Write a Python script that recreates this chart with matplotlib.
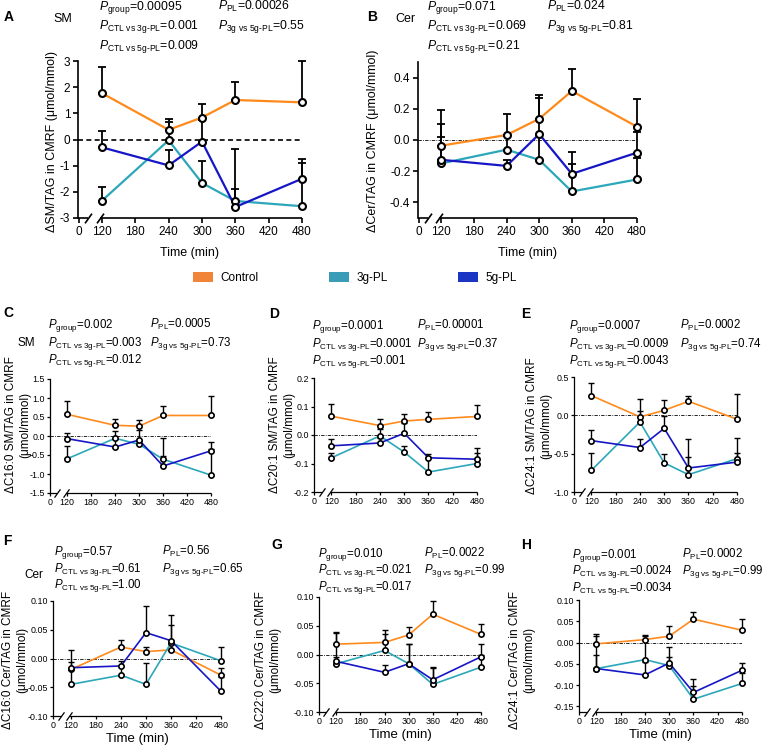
import numpy as np
import matplotlib
matplotlib.use('Agg')
import matplotlib.pyplot as plt
from matplotlib.patches import Patch

plt.rcParams['font.family'] = ['Liberation Sans', 'DejaVu Sans']
plt.rcParams['mathtext.fontset'] = 'custom'
plt.rcParams['mathtext.rm'] = 'Liberation Sans'
plt.rcParams['mathtext.it'] = 'Liberation Sans:italic'
plt.rcParams['mathtext.bf'] = 'Liberation Sans:bold'
plt.rcParams['axes.unicode_minus'] = False

# ---- data -------------------------------------------------------------
times = [120, 240, 300, 360, 480]
xticks = [0, 120, 180, 240, 300, 360, 420, 480]
groups = ['Control', '3g-PL', '5g-PL']

# A  SM
a_ctl = [1.77, 0.37, 0.84, 1.51, 1.42]
a_ctl_sem = [0.99, 0.43, 0.51, 0.69, 1.58]
a_3g = [-2.34, -0.03, -1.66, -2.35, -2.55]
a_3g_sem = [0.52, 0.69, 0.83, 0.47, 1.67]
a_5g = [-0.30, -0.99, -0.08, -2.58, -1.50]
a_5g_sem = [0.63, 0.60, 0.83, 2.23, 0.75]

# B  Cer
b_ctl = [-0.036, 0.032, 0.136, 0.314, 0.085]
b_ctl_sem = [0.226, 0.134, 0.154, 0.138, 0.178]
b_3g = [-0.150, -0.062, -0.127, -0.330, -0.253]
b_3g_sem = [0.170, 0.09, 0.16, 0.173, 0.136]
b_5g = [-0.127, -0.166, 0.038, -0.217, -0.081]
b_5g_sem = [0.227, 0.039, 0.232, 0.143, 0.131]

# C  C16:0 SM
c_ctl = [0.57, 0.28, 0.26, 0.54, 0.54]
c_ctl_sem = [0.36, 0.17, 0.16, 0.24, 0.50]
c_3g = [-0.60, -0.06, -0.22, -0.61, -1.03]
c_3g_sem = [0.34, 0.19, 0.10, 0.08, 0.70]
c_5g = [-0.07, -0.29, -0.105, -0.79, -0.39]
c_5g_sem = [0.16, 0.22, 0.25, 0.75, 0.23]

# D  C20:1 SM
d_ctl = [0.066, 0.033, 0.049, 0.055, 0.065]
d_ctl_sem = [0.043, 0.022, 0.025, 0.025, 0.042]
d_3g = [-0.080, -0.003, -0.060, -0.130, -0.100]
d_3g_sem = [0.016, 0.024, 0.020, 0.052, 0.038]
d_5g = [-0.038, -0.028, 0.006, -0.080, -0.085]
d_5g_sem = [0.023, 0.018, 0.037, 0.014, 0.041]

# E  C24:1 SM
e_ctl = [0.257, -0.02, 0.065, 0.183, -0.05]
e_ctl_sem = [0.169, 0.23, 0.135, 0.067, 0.33]
e_3g = [-0.717, -0.087, -0.62, -0.774, -0.565]
e_3g_sem = [0.221, 0.144, 0.12, 0.23, 0.075]
e_5g = [-0.33, -0.42, -0.17, -0.687, -0.61]
e_5g_sem = [0.134, 0.107, 0.166, 0.377, 0.31]

# F  C16:0 Cer
f_ctl = [-0.019, 0.020, 0.012, 0.015, -0.029]
f_ctl_sem = [0.034, 0.013, 0.008, 0.010, 0.013]
f_3g = [-0.045, -0.029, -0.045, 0.027, -0.004]
f_3g_sem = [0.025, 0.016, 0.038, 0.032, 0.024]
f_5g = [-0.016, -0.013, 0.045, 0.031, -0.057]
f_5g_sem = [0.010, 0.008, 0.046, 0.044, 0.025]

# G  C22:0 Cer
g_ctl = [0.018, 0.021, 0.034, 0.070, 0.035]
g_ctl_sem = [0.022, 0.022, 0.013, 0.023, 0.018]
g_3g = [-0.016, 0.007, -0.016, -0.052, -0.022]
g_3g_sem = [0.011, 0.029, 0.035, 0.031, 0.022]
g_5g = [-0.012, -0.031, -0.016, -0.044, -0.004]
g_5g_sem = [0.050, 0.013, 0.034, 0.020, 0.022]

# H  C24:1 Cer
h_ctl = [-0.003, 0.007, 0.015, 0.055, 0.029]
h_ctl_sem = [0.0225, 0.011, 0.024, 0.016, 0.026]
h_3g = [-0.061, -0.040, -0.054, -0.133, -0.096]
h_3g_sem = [0.033, 0.055, 0.021, 0.031, 0.024]
h_5g = [-0.061, -0.076, -0.048, -0.117, -0.065]
h_5g_sem = [0.076, 0.030, 0.038, 0.031, 0.017]

# p values: group, PL, CTL vs 3g, 3g vs 5g, CTL vs 5g
p_a = ['0.00095', '0.00026', '0.001', '0.55', '0.009']
p_b = ['0.071', '0.024', '0.069', '0.81', '0.21']
p_c = ['0.002', '0.0005', '0.003', '0.73', '0.012']
p_d = ['0.0001', '0.00001', '0.0001', '0.37', '0.001']
p_e = ['0.0007', '0.0002', '0.0009', '0.74', '0.0043']
p_f = ['0.57', '0.56', '0.61', '0.65', '1.00']
p_g = ['0.010', '0.0022', '0.021', '0.99', '0.017']
p_h = ['0.001', '0.0002', '0.0024', '0.99', '0.0034']

line_colors = ['#FF8A1C', '#2CA7BA', '#1616C6']
legend_colors = ['#F0853A', '#3A9DB8', '#1C36C4']

# ---- figure -----------------------------------------------------------
W, H = 762, 749
fig = plt.figure(figsize=(W / 100, H / 100), dpi=100)


def box(l, r, t, b):
    return [l / W, 1 - b / H, (r - l) / W, (b - t) / H]


K = 0.35  # compression of the 0-120 stretch (axis break)


def fwd(x):
    x = np.asarray(x, float)
    return np.where(x < 120, x * K, x - 120 + 120 * K)


def inv(y):
    y = np.asarray(y, float)
    return np.where(y < 120 * K, y / K, y + 120 - 120 * K)


def panel(rect, series, ylim, yticks, fmt, big=False, xlabel=False, dash=False):
    ax = fig.add_axes(box(*rect))
    ax.set_xscale('function', functions=(fwd, inv))
    ax.set_xlim(-3, 480)
    ax.set_ylim(*ylim)
    if big:
        lw, elw, cs, ms, mew, slw, tfs = 1.6, 1.3, 2.6, 5.0, 1.5, 1.2, 8.5
        tl, tp = 3.5, 2
    else:
        lw, elw, cs, ms, mew, slw, tfs = 1.2, 1.0, 1.9, 3.8, 1.2, 0.9, 6.4
        tl, tp = 2.2, 1.2

    if dash:
        ax.axhline(0, color='k', lw=1.2, ls=(0, (3, 2)), zorder=1)
    else:
        ax.axhline(0, color='k', lw=0.6, ls=(0, (4, 1.5, 1, 1.5)), zorder=1)

    for (mean, sem), col in zip(series, line_colors):
        ax.plot(times, mean, color=col, lw=lw, zorder=2, clip_on=False)
    for mean, sem in series:
        ax.errorbar(times, mean, yerr=[np.zeros(len(sem)), sem], fmt='none',
                    ecolor='k', elinewidth=elw, capsize=cs, capthick=elw,
                    zorder=3, clip_on=False)
        ax.plot(times, mean, 'o', mfc='white', mec='k', ms=ms, mew=mew,
                zorder=4, clip_on=False)

    ax.set_xticks(xticks)
    ax.set_xticklabels([str(t) for t in xticks])
    ax.set_yticks(yticks)
    ax.set_yticklabels([fmt.format(v) for v in yticks])
    ax.tick_params(direction='out', length=tl, width=slw, labelsize=tfs, pad=tp)
    for s in ['top', 'right', 'bottom']:
        ax.spines[s].set_visible(False)
    ax.spines['left'].set_linewidth(slw)

    # broken bottom axis
    tr = ax.get_xaxis_transform()
    ax.plot([-3, 50], [0, 0], color='k', lw=slw, transform=tr, clip_on=False,
            solid_capstyle='butt')
    ax.plot([108, 480], [0, 0], color='k', lw=slw, transform=tr, clip_on=False,
            solid_capstyle='butt')
    ax.plot([50, 108], [0, 0], ls='none', marker=[(-1, -1.4), (1, 1.4)],
            ms=7 if big else 6, mew=slw, color='k', transform=tr, clip_on=False)

    if xlabel:
        ax.set_xlabel('Time (min)', fontsize=9 if big else 9.5,
                      labelpad=7 if big else 2.5)
    return ax


def ptexts(x1, x2, ys, p, size):
    subs = [r'group', r'PL', r'CTL\ vs\ 3g\text{-}PL', r'3g\ vs\ 5g\text{-}PL',
            r'CTL\ vs\ 5g\text{-}PL']
    pos = [(x1, ys[0]), (x2, ys[0]), (x1, ys[1]), (x2, ys[1]), (x1, ys[2])]
    for sub, val, (x, y) in zip(subs, p, pos):
        fig.text(x / W, 1 - y / H, r'$\mathit{P}_{\mathrm{' + sub + '}}$=' + val,
                 fontsize=size, ha='left', va='baseline')


def label(x, y, s, size=10, bold=True):
    fig.text(x / W, 1 - y / H, s, fontsize=size, ha='left', va='baseline',
             fontweight='bold' if bold else 'normal')


def ylab(x, y, s, size):
    fig.text(x / W, 1 - y / H, s, fontsize=size, rotation=90, ha='center',
             va='center', multialignment='center', linespacing=1.25)


# A
panel((78, 302, 61, 218),
      [(a_ctl, a_ctl_sem), (a_3g, a_3g_sem), (a_5g, a_5g_sem)],
      (-3, 3), [-3, -2, -1, 0, 1, 2, 3], '{:.0f}', big=True, xlabel=True,
      dash=True)
# B
panel((418, 637, 62, 218),
      [(b_ctl, b_ctl_sem), (b_3g, b_3g_sem), (b_5g, b_5g_sem)],
      (-0.5, 0.5), [-0.4, -0.2, 0.0, 0.2, 0.4], '{:.1f}', big=True, xlabel=True)
# C
panel((50, 211, 379, 493),
      [(c_ctl, c_ctl_sem), (c_3g, c_3g_sem), (c_5g, c_5g_sem)],
      (-1.5, 1.5), [-1.5, -1.0, -0.5, 0.0, 0.5, 1.0, 1.5], '{:.1f}')
# D
panel((314, 477, 378, 492),
      [(d_ctl, d_ctl_sem), (d_3g, d_3g_sem), (d_5g, d_5g_sem)],
      (-0.2, 0.2), [-0.2, -0.1, 0.0, 0.1, 0.2], '{:.1f}')
# E
panel((574, 737, 377, 492),
      [(e_ctl, e_ctl_sem), (e_3g, e_3g_sem), (e_5g, e_5g_sem)],
      (-1.0, 0.5), [-1.0, -0.5, 0.0, 0.5], '{:.1f}')
# F
panel((53, 221, 601, 716),
      [(f_ctl, f_ctl_sem), (f_3g, f_3g_sem), (f_5g, f_5g_sem)],
      (-0.1, 0.1), [-0.10, -0.05, 0.0, 0.05, 0.10], '{:.2f}', xlabel=True)
# G
panel((319, 481, 597, 712),
      [(g_ctl, g_ctl_sem), (g_3g, g_3g_sem), (g_5g, g_5g_sem)],
      (-0.1, 0.1), [-0.10, -0.05, 0.0, 0.05, 0.10], '{:.2f}', xlabel=True)
# H
panel((579, 742, 600, 712),
      [(h_ctl, h_ctl_sem), (h_3g, h_3g_sem), (h_5g, h_5g_sem)],
      (-0.163, 0.10), [-0.15, -0.10, -0.05, 0.0, 0.05, 0.10], '{:.2f}',
      xlabel=True)

# panel letters, class labels, p values
label(4, 21, 'A'); label(367, 21, 'B')
label(3, 317, 'C'); label(269, 318, 'D'); label(521, 318, 'E')
label(3, 545, 'F'); label(271, 549, 'G'); label(521, 549, 'H')
label(53, 22, 'SM', 9, False); label(395, 22, 'Cer', 9, False)
label(18, 346, 'SM', 8.5, False); label(24, 578, 'Cer', 8.5, False)

ptexts(99, 218, (9.5, 29, 49), p_a, 8.8)
ptexts(427, 547, (9.5, 29, 49), p_b, 8.8)
ptexts(48, 150, (328, 346, 363), p_c, 8.3)
ptexts(312, 417, (329, 347, 364), p_d, 8.3)
ptexts(569, 680, (329, 347, 364), p_e, 8.3)
ptexts(54, 162, (555, 572, 588), p_f, 8.3)
ptexts(318, 424, (557, 573, 590), p_g, 8.3)
ptexts(572, 682, (558, 574, 591), p_h, 8.3)

# y labels
ylab(52, 141, 'ΔSM/TAG in CMRF (μmol/mmol)', 9)
ylab(373, 141, 'ΔCer/TAG in CMRF (μmol/mmol)', 9)
ylab(18, 425, 'ΔC16:0 SM/TAG in CMRF\n(μmol/mmol)', 8.5)
ylab(282, 425, 'ΔC20:1 SM/TAG in CMRF\n(μmol/mmol)', 8.5)
ylab(539, 426, 'ΔC24:1 SM/TAG in CMRF\n(μmol/mmol)', 8.5)
ylab(15, 660, 'ΔC16:0 Cer/TAG in CMRF\n(μmol/mmol)', 8.5)
ylab(268, 660, 'ΔC22:0 Cer/TAG in CMRF\n(μmol/mmol)', 8.5)
ylab(522, 660, 'ΔC24:1 Cer/TAG in CMRF\n(μmol/mmol)', 8.5)

# legend
handles = [Patch(facecolor=c, edgecolor='none', label=g)
           for c, g in zip(legend_colors, groups)]
fig.legend(handles=handles, loc='center', bbox_to_anchor=(355 / W, 1 - 278 / H),
           ncol=3, frameon=False, fontsize=8.5, handlelength=1.7,
           handleheight=1.0, handletextpad=0.6, columnspacing=6.0)

fig.savefig('out.png', dpi=100)
